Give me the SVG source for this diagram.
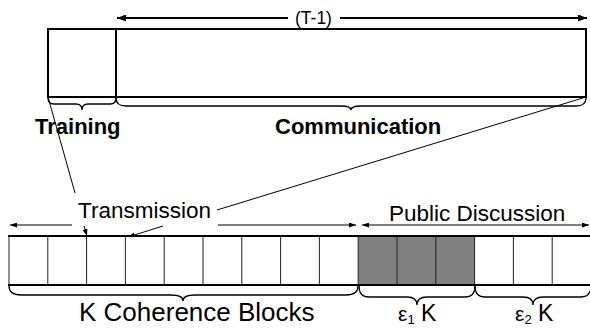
<svg xmlns="http://www.w3.org/2000/svg" width="590" height="328" viewBox="0 0 590 328">
<style>
  text { font-family: "Liberation Sans", Arial, sans-serif; fill: #000; }
  .bold { font-weight: bold; font-size: 22px; }
  .lbl { font-size: 22.5px; }
  .thin { stroke: #000; stroke-width: 1; fill: none; }
  .brace { stroke: #000; stroke-width: 1.3; fill: none; }
  .cell { stroke: #222; stroke-width: 1; }
  .gray { fill: #808080; stroke: none; }
</style>
<defs>
  <marker id="ahBig" markerUnits="userSpaceOnUse" markerWidth="9" markerHeight="7" refX="9" refY="3.5" orient="auto-start-reverse">
    <path d="M0,0 L9,3.5 L0,7 z" fill="#000"/>
  </marker>
  <marker id="ahSmall" markerUnits="userSpaceOnUse" markerWidth="7" markerHeight="5" refX="7" refY="2.5" orient="auto-start-reverse">
    <path d="M0,0 L7,2.5 L0,5 z" fill="#000"/>
  </marker>
</defs>
<rect width="590" height="328" fill="#fff"/>

<g id="frame">
  <rect x="48" y="29" width="538" height="68" fill="#fff" stroke="#000" stroke-width="2"/>
  <line x1="116" y1="29" x2="116" y2="97" stroke="#000" stroke-width="2"/>
</g>

<g id="period-arrow">
  <line x1="117" y1="18" x2="288" y2="18" stroke="#000" stroke-width="2" marker-start="url(#ahBig)"/>
  <line x1="340" y1="18" x2="587" y2="18" stroke="#000" stroke-width="2" marker-end="url(#ahBig)"/>
  <text x="295" y="24" font-size="17.5">(T-1)</text>
</g>

<g id="training">
  <path class="brace" d="M48,98 Q48,104 54,104 L76,104 Q82,104 82,110 Q82,104 88,104 L110,104 Q116,104 116,98"/>
  <text class="bold" x="35" y="134">Training</text>
</g>

<g id="communication">
  <path class="brace" d="M116,98 Q116,106 126,106 L341,106 Q351,106 351,110 Q351,106 361,106 L576,106 Q586,106 586,98"/>
  <text class="bold" x="275" y="134">Communication</text>
</g>

<g id="connectors">
  <line class="thin" x1="48" y1="97" x2="75" y2="193"/>
  <line class="thin" x1="84" y1="226" x2="87" y2="236" marker-end="url(#ahSmall)"/>
  <line class="thin" x1="586" y1="97" x2="217" y2="210"/>
  <line class="thin" x1="163" y1="226" x2="128" y2="237" marker-end="url(#ahSmall)"/>
  <line class="thin" x1="10" y1="225" x2="72" y2="225" marker-start="url(#ahSmall)"/>
  <line class="thin" x1="218" y1="225" x2="356" y2="225" marker-end="url(#ahSmall)"/>
  <line class="thin" x1="362" y1="225" x2="589" y2="225" marker-start="url(#ahSmall)" marker-end="url(#ahSmall)"/>
</g>

<g id="transmission">
  <text class="lbl" x="78" y="218">Transmission</text>
</g>

<g id="public-discussion">
  <text class="lbl" x="389" y="221">Public Discussion</text>
</g>

<g id="blocks">
  <rect x="9" y="236" width="582" height="49" fill="#fff"/>
  <rect class="gray" x="358.2" y="236" width="116.4" height="49"/>
  <g class="cell">
    <line x1="9" y1="236" x2="9" y2="285"/>
    <line x1="47.8" y1="236" x2="47.8" y2="285"/>
    <line x1="86.6" y1="236" x2="86.6" y2="285"/>
    <line x1="125.4" y1="236" x2="125.4" y2="285"/>
    <line x1="164.2" y1="236" x2="164.2" y2="285"/>
    <line x1="203" y1="236" x2="203" y2="285"/>
    <line x1="241.8" y1="236" x2="241.8" y2="285"/>
    <line x1="280.6" y1="236" x2="280.6" y2="285"/>
    <line x1="319.4" y1="236" x2="319.4" y2="285"/>
    <line x1="358.2" y1="236" x2="358.2" y2="285"/>
    <line x1="397" y1="236" x2="397" y2="285"/>
    <line x1="435.8" y1="236" x2="435.8" y2="285"/>
    <line x1="474.6" y1="236" x2="474.6" y2="285"/>
    <line x1="513.4" y1="236" x2="513.4" y2="285"/>
    <line x1="552.2" y1="236" x2="552.2" y2="285"/>
  </g>
  <line x1="8" y1="236" x2="591" y2="236" stroke="#000" stroke-width="2.2"/>
  <line x1="8" y1="285" x2="591" y2="285" stroke="#000" stroke-width="2.2"/>
</g>

<g id="k-blocks">
  <path class="brace" d="M9,286 Q9,295 21,295 L171,295 Q183,295 183,301 Q183,295 195,295 L346,295 Q358,295 358,286"/>
  <text x="79" y="321" font-size="26">K Coherence Blocks</text>
</g>

<g id="eps1">
  <path class="brace" d="M359,286 Q359,297 369,297 L407,297 Q417,297 417,305 Q417,297 427,297 L465,297 Q475,297 475,286"/>
  <text x="398" y="321" font-size="21">ε<tspan font-size="13" dy="3">1</tspan><tspan font-size="23" dy="-3"> K</tspan></text>
</g>

<g id="eps2">
  <path class="brace" d="M475,286 Q475,297 485,297 L523,297 Q533,297 533,305 Q533,297 543,297 L581,297 Q591,297 591,286"/>
  <text x="515" y="321" font-size="21">ε<tspan font-size="13" dy="3">2</tspan><tspan font-size="23" dy="-3"> K</tspan></text>
</g>
</svg>
